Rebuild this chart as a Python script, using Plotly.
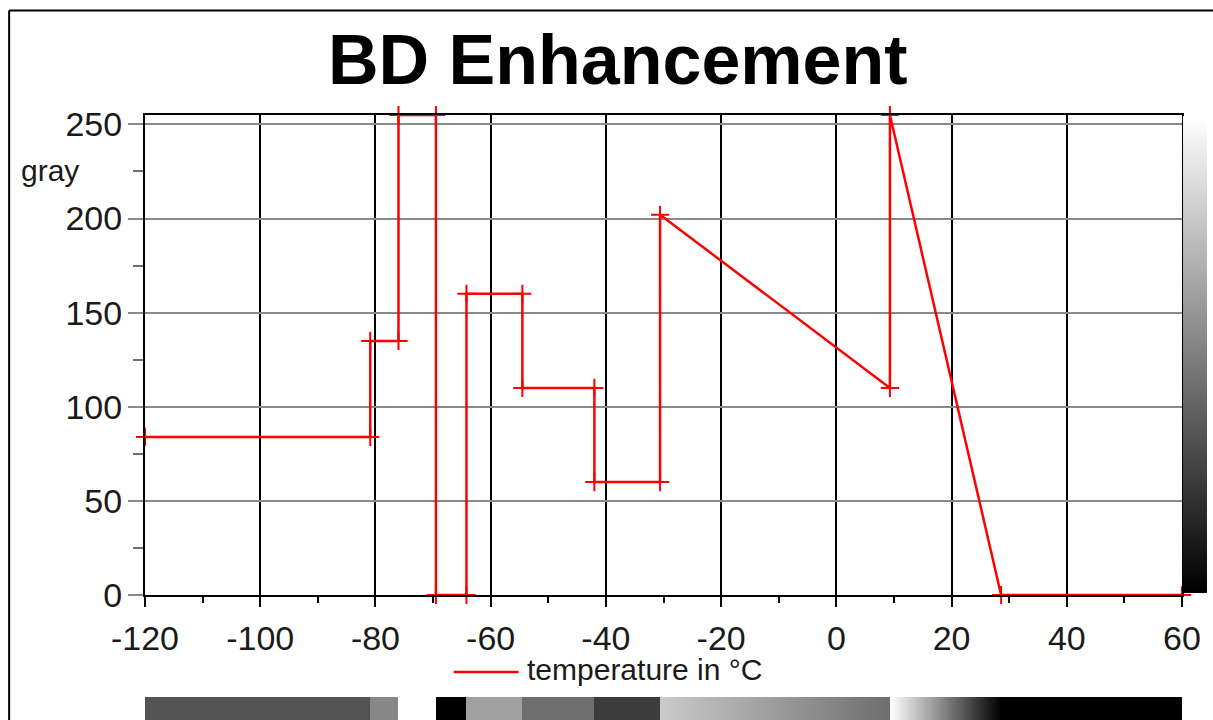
import numpy as np
import plotly.graph_objects as go

# ---- data ----
temperature_c = [-120, -80.9, -80.9, -76, -76, -69.5, -69.5, -64.2, -64.2, -54.5, -54.5,
                 -42, -42, -30.6, -30.6, 9.3, 9.3, 28.6, 60]
gray_value = [84, 84, 135, 135, 255, 255, 0, 0, 160, 160, 110, 110, 60, 60, 202, 110, 255, 0, 0]
x_ticks = [-120, -100, -80, -60, -40, -20, 0, 20, 40, 60]
x_tick_labels = ["-120", "-100", "-80", "-60", "-40", "-20", "0", "20", "40", "60"]
y_ticks = [0, 50, 100, 150, 200, 250]
y_tick_labels = ["0", "50", "100", "150", "200", "250"]
gray_levels = list(range(0, 256))

# page geometry (the photographed area is slightly larger than the window)
RW, RH = 1213, 720
W, H = 1226, 742
SX, SY = W / RW, H / RH
ML = 143 * SX
MR = W - 1206 * SX
MT = 112 * SY
MB = 0
PW, PH = W - ML - MR, H - MT - MB


def px(x):
    return (x * SX - ML) / PW


def py(y):
    return (H - MB - y * SY) / PH


FONT = "Liberation Sans, Arial, sans-serif"
gray_scale = [[0, "black"], [1, "white"]]

fig = go.Figure()

# main curve
fig.add_trace(go.Scatter(
    x=temperature_c, y=gray_value, mode="lines+markers",
    line=dict(color="#ff0000", width=2.5),
    marker=dict(symbol="cross-thin", size=13, color="#ff0000",
                line=dict(color="#ff0000", width=2)),
    showlegend=False, xaxis="x", yaxis="y", cliponaxis=False,
))

# grey strip under the chart: gray value of the curve across temperatures
strip_x = np.linspace(-120, 60, 1039)
strip_z = np.interp(strip_x, temperature_c, gray_value)
fig.add_trace(go.Heatmap(
    x=strip_x, y=[0], z=[strip_z], colorscale=gray_scale, zmin=0, zmax=255,
    showscale=False, xaxis="x2", yaxis="y2", hoverinfo="skip",
))

# vertical gray ramp on the right
fig.add_trace(go.Heatmap(
    x=[0], y=gray_levels, z=[[g] for g in gray_levels], colorscale=gray_scale,
    zmin=0, zmax=255, showscale=False, xaxis="x3", yaxis="y3", hoverinfo="skip",
))

main_right = px(1181)
fig.update_layout(
    width=W, height=H, margin=dict(l=ML, r=MR, t=MT, b=MB),
    paper_bgcolor="white", plot_bgcolor="white",
    font=dict(family=FONT, color="#1a1a1a"),
    xaxis=dict(
        domain=[0, main_right], range=[-120, 60], tickvals=x_ticks, ticktext=x_tick_labels,
        showgrid=True, gridcolor="black", gridwidth=2,
        showline=True, linecolor="black", linewidth=2, mirror=True,
        ticks="outside", ticklen=10, tickwidth=2, tickcolor="black",
        minor=dict(dtick=10, ticks="outside", ticklen=6, tickwidth=2, tickcolor="black", showgrid=False),
        tickfont=dict(size=34, family=FONT, color="#1a1a1a"),
        ticklabelstandoff=2, zeroline=False, fixedrange=True,
    ),
    yaxis=dict(
        domain=[py(592), py(112)], range=[0, 255], tickvals=y_ticks, ticktext=y_tick_labels,
        showgrid=True, gridcolor="#8a8a8a", gridwidth=2,
        showline=True, linecolor="black", linewidth=2, mirror=True,
        ticks="outside", ticklen=15, tickwidth=2, tickcolor="#8a8a8a",
        minor=dict(dtick=25, ticks="outside", ticklen=10, tickwidth=2, tickcolor="#707070", showgrid=False),
        tickfont=dict(size=34, family=FONT, color="#1a1a1a"),
        ticklabelstandoff=-1, zeroline=False, fixedrange=True,
    ),
    xaxis2=dict(domain=[0, main_right], range=[-120, 60], visible=False, anchor="y2"),
    yaxis2=dict(domain=[0, py(694)], range=[-0.5, 0.5], visible=False, anchor="x2"),
    xaxis3=dict(domain=[px(1182), 1], range=[-0.5, 0.5], visible=False, anchor="y3"),
    yaxis3=dict(domain=[py(590), py(113)], range=[-0.5, 255.5], visible=False, anchor="x3"),
    annotations=[
        dict(text="<b>BD Enhancement</b>", x=px(616), y=py(57), xref="paper", yref="paper",
             xanchor="center", yanchor="middle", showarrow=False,
             font=dict(size=70, family=FONT, color="black")),
        dict(text="gray", x=px(17), y=py(167), xref="paper", yref="paper",
             xanchor="left", yanchor="middle", showarrow=False,
             font=dict(size=30, family=FONT, color="#1a1a1a")),
        dict(text="temperature in °C", x=px(523), y=py(667), xref="paper", yref="paper",
             xanchor="left", yanchor="middle", showarrow=False,
             font=dict(size=30, family=FONT, color="#1a1a1a")),
    ],
    shapes=[
        dict(type="line", xref="paper", yref="paper", x0=px(452), x1=px(517), y0=py(669), y1=py(669),
             line=dict(color="#ff0000", width=2.5)),
        dict(type="line", xref="paper", yref="paper", x0=px(7), x1=px(1214), y0=py(7.5), y1=py(7.5),
             line=dict(color="black", width=2)),
        dict(type="line", xref="paper", yref="paper", x0=px(7), x1=px(7), y0=py(7.5), y1=py(721),
             line=dict(color="black", width=2)),
    ],
)

fig.write_html("out.html", config={"displayModeBar": False},
               post_script="document.body.style.margin='0';document.body.style.overflow='hidden';")
